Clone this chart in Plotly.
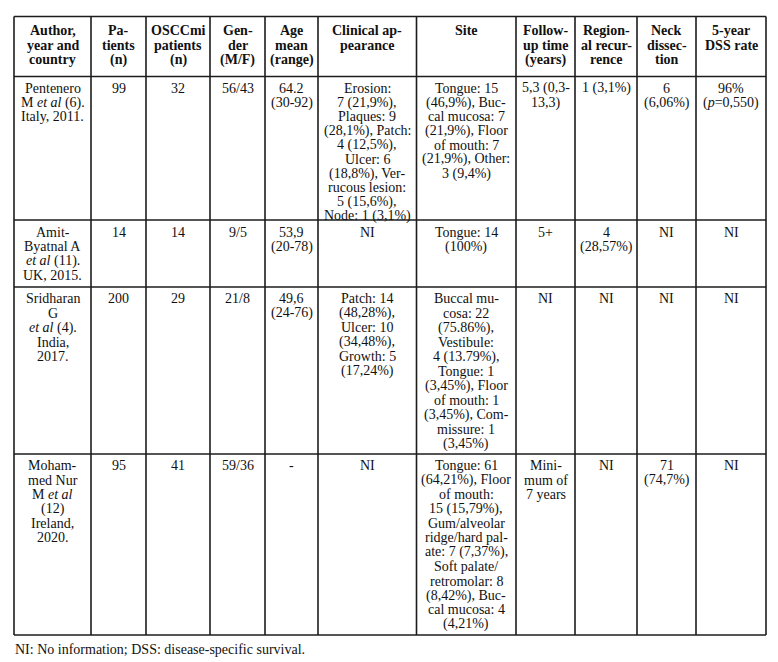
import plotly.graph_objects as go

# ---------------- data ----------------
header = [
    ["Author,", "year and", "country"],
    ["Pa-", "tients", "(n)"],
    ["OSCCmi", "patients", "(n)"],
    ["Gen-", "der", "(M/F)"],
    ["Age", "mean", "(range)"],
    ["Clinical ap-", "pearance"],
    ["Site"],
    ["Follow-", "up time", "(years)"],
    ["Region-", "al recur-", "rence"],
    ["Neck", "dissec-", "tion"],
    ["5-year", "DSS rate"],
]

authors = [
    ["Pentenero", "M <i>et al</i> (6).", "Italy, 2011."],
    ["Amit-", "Byatnal A", "<i>et al</i> (11).", "UK, 2015."],
    ["Sridharan", "G", "<i>et al</i> (4).", "India,", "2017."],
    ["Moham-", "med Nur", "M <i>et al</i>", "(12)", "Ireland,", "2020."],
]
patients = [["99"], ["14"], ["200"], ["95"]]
osccmi = [["32"], ["14"], ["29"], ["41"]]
gender = [["56/43"], ["9/5"], ["21/8"], ["59/36"]]
age = [["64.2", "(30-92)"], ["53,9", "(20-78)"], ["49,6", "(24-76)"], ["-"]]
clinical = [
    ["Erosion:", "7 (21,9%),", "Plaques: 9", "(28,1%), Patch:", "4 (12,5%),",
     "Ulcer: 6", "(18,8%), Ver-", "rucous lesion:", "5 (15,6%),", "Node: 1 (3,1%)"],
    ["NI"],
    ["Patch: 14", "(48,28%),", "Ulcer: 10", "(34,48%),", "Growth: 5", "(17,24%)"],
    ["NI"],
]
site = [
    ["Tongue: 15", "(46,9%), Buc-", "cal mucosa: 7", "(21,9%), Floor",
     "of mouth: 7", "(21,9%), Other:", "3 (9,4%)"],
    ["Tongue: 14", "(100%)"],
    ["Buccal mu-", "cosa: 22", "(75.86%),", "Vestibule:", "4 (13.79%),", "Tongue: 1",
     "(3,45%), Floor", "of mouth: 1", "(3,45%), Com-", "missure: 1", "(3,45%)"],
    ["Tongue: 61", "(64,21%), Floor", "of mouth:", "15 (15,79%),", "Gum/alveolar",
     "ridge/hard pal-", "ate: 7 (7,37%),", "Soft palate/", "retromolar: 8",
     "(8,42%), Buc-", "cal mucosa: 4", "(4,21%)"],
]
followup = [["5,3 (0,3-", "13,3)"], ["5+"], ["NI"], ["Mini-", "mum of", "7 years"]]
regional = [["1 (3,1%)"], ["4", "(28,57%)"], ["NI"], ["NI"]]
neck = [["6", "(6,06%)"], ["NI"], ["NI"], ["71", "(74,7%)"]]
dss = [["96%", "(<i>p</i>=0,550)"], ["NI"], ["NI"], ["NI"]]

footnote = "NI: No information; DSS: disease-specific survival."

columns = [authors, patients, osccmi, gender, age, clinical, site,
           followup, regional, neck, dss]

# ---------------- layout constants ----------------
W, H = 778, 662
PAD = 8  # default page margin around the plot div
col_edges = [14, 91, 146, 210, 265, 318, 416.5, 516, 575, 637, 696, 766]
row_edges = [16.5, 76.5, 220, 287, 454, 635]
FONT = "Liberation Serif, Times New Roman, serif"
FS = 14
ROW_LEAD = [14.7, 14.2, 14.5, 14.5, 14.4]   # header + 4 body rows
ROW_OFF = [14.0, 11.9, 12.0, 11.9, 11.9]
LINE_COLOR = "#1c1c1c"

fig = go.Figure()
ann = []
shapes = []


def add_cell(lines, c, r, bold=False):
    x = (col_edges[c] + col_edges[c + 1]) / 2
    top = row_edges[r]
    for i, t in enumerate(lines):
        ann.append(dict(
            x=x, y=top + ROW_OFF[r] + i * ROW_LEAD[r], xref="x", yref="y",
            text=f"<b>{t}</b>" if bold else t, showarrow=False,
            xanchor="center", yanchor="middle", borderpad=0,
            font=dict(family=FONT, size=FS, color="#111111"),
        ))


for c, lines in enumerate(header):
    add_cell(lines, c, 0, bold=True)
for c, col in enumerate(columns):
    for r, lines in enumerate(col):
        add_cell(lines, c, r + 1)

for xe in col_edges:
    shapes.append(dict(type="line", xref="x", yref="y", x0=xe, x1=xe,
                       y0=row_edges[0], y1=row_edges[-1],
                       line=dict(color=LINE_COLOR, width=1.6)))
for ye in row_edges:
    shapes.append(dict(type="line", xref="x", yref="y", x0=col_edges[0], x1=col_edges[-1],
                       y0=ye, y1=ye, line=dict(color=LINE_COLOR, width=1.6)))

ann.append(dict(x=col_edges[0], y=649.5, xref="x", yref="y", text=footnote,
                showarrow=False, xanchor="left", yanchor="middle", borderpad=0,
                font=dict(family=FONT, size=14, color="#111111")))

fig.update_layout(
    width=W - PAD, height=H - PAD, margin=dict(l=0, r=0, t=0, b=0),
    paper_bgcolor="white", plot_bgcolor="white",
    xaxis=dict(range=[PAD, W], visible=False, fixedrange=True),
    yaxis=dict(range=[H, PAD], visible=False, fixedrange=True),
    annotations=ann, shapes=shapes, showlegend=False,
)

fig.write_html("out.html", config={"displayModeBar": False})
